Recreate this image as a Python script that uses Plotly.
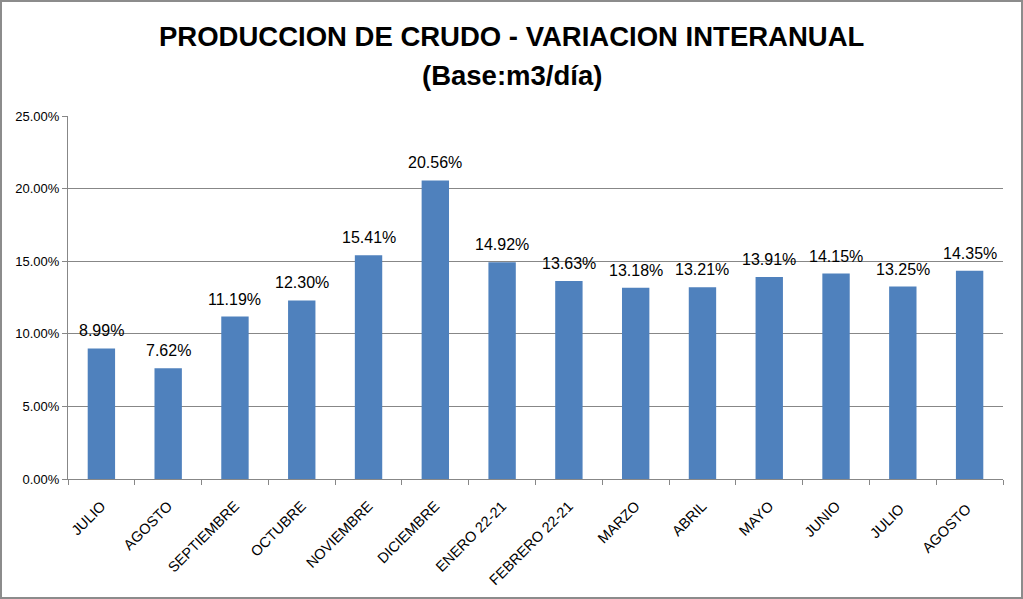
import plotly.graph_objects as go

categories = ["JULIO", "AGOSTO", "SEPTIEMBRE", "OCTUBRE", "NOVIEMBRE", "DICIEMBRE",
              "ENERO 22-21", "FEBRERO 22-21", "MARZO", "ABRIL", "MAYO", "JUNIO",
              "JULIO ", "AGOSTO "]
values = [8.99, 7.62, 11.19, 12.30, 15.41, 20.56, 14.92, 13.63, 13.18, 13.21, 13.91, 14.15, 13.25, 14.35]
labels = [f"{v:.2f}%" for v in values]
yticks = [0, 5, 10, 15, 20, 25]
yticklabels = [f"{t:.2f}%" for t in yticks]
title_lines = ["PRODUCCION DE CRUDO - VARIACION INTERANUAL", "(Base:m3/día)"]

FONT = "Liberation Sans, Arial, sans-serif"
W, H = 1023, 599
ml, mr, mt, mb = 68, 20, 116, 120
pw, ph = W - ml - mr, H - mt - mb

fig = go.Figure(go.Bar(
    x=categories, y=values,
    marker=dict(color="#4F81BD", line=dict(color="#4F81BD", width=0)),
    hoverinfo="x+y",
))

# data labels above bars
for c, v, t in zip(categories, values, labels):
    fig.add_annotation(
        x=c, y=v, xref="x", yref="y", text=t, showarrow=False,
        xanchor="center", yanchor="bottom", yshift=7,
        font=dict(size=16, color="#000000", family=FONT),
    )

fig.update_layout(
    width=W, height=H,
    margin=dict(l=ml, r=mr, t=mt, b=mb),
    paper_bgcolor="white", plot_bgcolor="white",
    bargap=0.59,
    showlegend=False,
    font=dict(family=FONT, color="#000000"),
)

for line, py in zip(title_lines, [37, 75]):
    fig.add_annotation(
        text=f"<b>{line}</b>", xref="paper", yref="paper",
        x=(W / 2 - ml) / pw, y=1 + (mt - py) / ph,
        xanchor="center", yanchor="middle", showarrow=False,
        font=dict(size=27.5, color="#000000", family=FONT),
    )

fig.update_yaxes(
    range=[0, 25], tickvals=yticks, ticktext=yticklabels,
    showgrid=True, gridcolor="#878787", gridwidth=1,
    showline=True, linecolor="#878787", linewidth=1,
    ticks="outside", ticklen=5, tickcolor="#878787",
    tickfont=dict(size=13, color="#000000"),
    zeroline=False, fixedrange=True,
)
fig.update_xaxes(
    showline=True, linecolor="#878787", linewidth=1,
    ticks="outside", ticklen=5, tickcolor="#878787", tickson="boundaries",
    tickangle=-45, tickfont=dict(size=14.5, color="#000000"),
    ticklabelstandoff=12,
    showgrid=False,
)

# outer frame
fig.add_shape(type="rect", xref="paper", yref="paper",
              x0=-ml / pw + 1 / pw, x1=1 + (mr - 1) / pw,
              y0=-mb / ph + 1 / ph, y1=1 + (mt - 1) / ph,
              line=dict(color="#8C8C8C", width=2), fillcolor="rgba(0,0,0,0)", layer="above")

fig.write_html("out.html", config={"displayModeBar": False},
               post_script="document.body.style.margin='0';document.body.style.overflow='hidden';")
